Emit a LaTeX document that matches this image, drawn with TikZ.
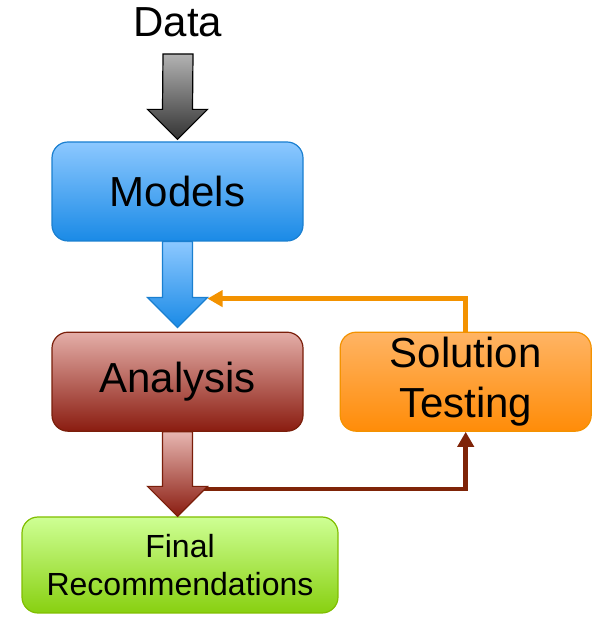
\documentclass[tikz,border=0pt]{standalone}
\usepackage{fontspec}
\setmainfont{Liberation Sans}
\usetikzlibrary{arrows.meta,positioning,calc}
\definecolor{blueTop}{HTML}{8CC8FF}
\definecolor{blueBot}{HTML}{1A8AE6}
\definecolor{blueLine}{HTML}{1A7FD0}
\definecolor{redTop}{HTML}{E4AEA8}
\definecolor{redBot}{HTML}{8A1C10}
\definecolor{redLine}{HTML}{7A1E0A}
\definecolor{orangeTop}{HTML}{FFB464}
\definecolor{orangeBot}{HTML}{FF8C08}
\definecolor{orangeLine}{HTML}{F39200}
\definecolor{greenTop}{HTML}{CEFF94}
\definecolor{greenBot}{HTML}{88D010}
\definecolor{greenLine}{HTML}{80BE00}
\definecolor{feedback}{HTML}{7F2408}
\tikzset{%
  % Specifications for style of nodes:
        base/.style = {rectangle, rounded corners=16pt, draw, line width=1.2pt,
                       minimum width=251pt, minimum height=99pt, inner sep=0pt,
                       align=center, font=\fontsize{42}{50}\selectfont},
    modelbox/.style = {base, draw=blueLine, top color=blueTop, bottom color=blueBot},
 analysisbox/.style = {base, draw=redLine, top color=redTop, bottom color=redBot},
     testbox/.style = {base, draw=orangeLine, top color=orangeTop, bottom color=orangeBot},
    finalbox/.style = {base, draw=greenLine, top color=greenTop, bottom color=greenBot,
                       minimum width=316pt, minimum height=96pt,
                       font=\fontsize{32}{38}\selectfont},
  % Specifications for style of connectors:
      fbline/.style = {line width=4.5pt, -{Triangle[length=15pt,width=16pt]}},
}
% block arrow: #1 = style, #2 = start, #3 = tip
\newcommand{\blockarrow}[3]{%
  \shade[#1, line width=1.2pt, line join=miter]
    ($(#2)+(-15,0)$) -- ($(#3)+(-15,30)$) -- ($(#3)+(-30,30)$) -- (#3)
    -- ($(#3)+(30,30)$) -- ($(#3)+(15,30)$) -- ($(#2)+(15,0)$) -- cycle;}

\begin{document}
\begin{tikzpicture}[x=1pt, y=1pt]
  \useasboundingbox (0,0) rectangle (596,617);
  % Specification of nodes (position, etc.)
  \node (data)     [anchor=base, inner sep=0pt, font=\fontsize{42}{50}\selectfont]
                   at (178,580)                      {Data};
  \node (models)   [modelbox] at (177.5,425.5)       {Models};
  \node (analysis) [analysisbox, below=90pt of models] {Analysis};
  \node (testing)  [testbox, right=36pt of analysis] {Solution\\Testing};
  \node (final)    [finalbox] at (180,52)            {Final\\Recommendations};

  \coordinate (dataout) at ($(data.base)+(0,-17)$);
  \coordinate (merge)   at ($(models.south)+(30,-57)$);
  \coordinate (split)   at ($(analysis.south)+(14,-57)$);

  \draw[fbline, draw=feedback]   (split) -| (testing.south);
  \draw[fbline, draw=orangeLine] (testing.north) |- (merge);

  \blockarrow{draw=black, top color=black!30, bottom color=black!80}
             {dataout}{$(models.north)+(0,2)$}
  \blockarrow{draw=blueLine, top color=blueTop, bottom color=blueBot}
             {models.south}{$(analysis.north)+(0,4)$}
  \blockarrow{draw=redLine, top color=redTop!90!white, bottom color=redBot}
             {analysis.south}{analysis.south |- final.north}
\end{tikzpicture}
\end{document}
